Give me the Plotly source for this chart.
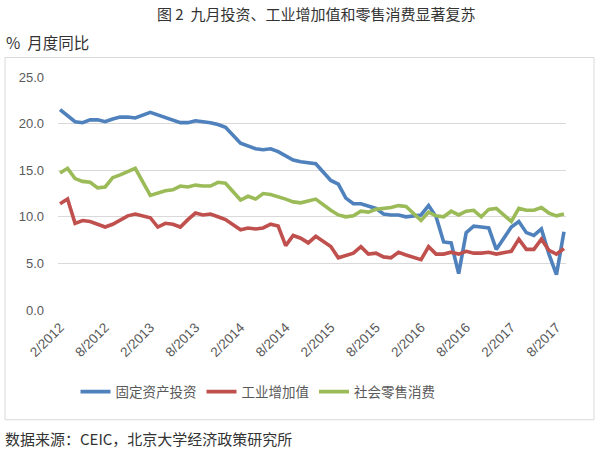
import plotly.graph_objects as go

# ---------------- data ----------------
months = []
for y in range(2012, 2018):
    for m in range(1, 13):
        if (y == 2012 and m < 2) or (y == 2017 and m > 9):
            continue
        months.append(f"{m}/{y}")

# None = January (no separate Jan release; line joins Dec to Jan-Feb)
fai = [21.5, 20.9, 20.2, 20.1, 20.4, 20.4, 20.2, 20.5, 20.7, 20.7, 20.6,
       None, 21.2, 20.9, 20.6, 20.4, 20.1, 20.1, 20.3, 20.2, 20.1, 19.9, 19.6,
       None, 17.9, 17.6, 17.3, 17.2, 17.3, 17.0, 16.5, 16.1, 15.9, 15.8, 15.7,
       None, 13.9, 13.5, 12.0, 11.4, 11.4, 11.2, 10.9, 10.3, 10.2, 10.2, 10.0,
       None, 10.2, 11.2, 10.0, 7.3, 7.2, 3.9, 8.3, 9.0, 8.9, 8.8, 6.5,
       None, 8.9, 9.5, 8.3, 8.0, 8.7, 6.0, 3.8, 8.4]

ip = [11.4, 11.9, 9.3, 9.6, 9.5, 9.2, 8.9, 9.2, 9.6, 10.1, 10.3,
      None, 9.9, 8.9, 9.3, 9.2, 8.9, 9.7, 10.4, 10.2, 10.3, 10.0, 9.7,
      None, 8.6, 8.8, 8.7, 8.8, 9.2, 9.0, 6.9, 8.0, 7.7, 7.2, 7.9,
      None, 6.8, 5.6, 5.9, 6.1, 6.8, 6.0, 6.1, 5.7, 5.6, 6.2, 5.9,
      None, 5.4, 6.8, 6.0, 6.0, 6.2, 6.0, 6.3, 6.1, 6.1, 6.2, 6.0,
      None, 6.3, 7.6, 6.5, 6.5, 7.6, 6.4, 6.0, 6.6]

retail = [14.7, 15.2, 14.1, 13.8, 13.7, 13.1, 13.2, 14.2, 14.5, 14.9, 15.2,
          None, 12.3, 12.6, 12.8, 12.9, 13.3, 13.2, 13.4, 13.3, 13.3, 13.7, 13.6,
          None, 11.8, 12.2, 11.9, 12.5, 12.4, 12.2, 11.9, 11.6, 11.5, 11.7, 11.9,
          None, 10.7, 10.2, 10.0, 10.1, 10.6, 10.5, 10.8, 10.9, 11.0, 11.2, 11.1,
          None, 9.6, 10.5, 10.1, 10.0, 10.6, 10.2, 10.6, 10.7, 10.0, 10.8, 10.9,
          None, 9.5, 10.9, 10.7, 10.7, 11.0, 10.4, 10.1, 10.3]

series_names = ["固定资产投资", "工业增加值", "社会零售消费"]
series_colors = ["#4F81BD", "#C0504D", "#9BBB59"]
tick_labels = months[::6]
y_ticks = [0, 5, 10, 15, 20, 25]

title_text = "图 2  九月投资、工业增加值和零售消费显著复苏"
unit_text = "%  月度同比"
source_text = "数据来源：CEIC，北京大学经济政策研究所"

# ---------------- figure ----------------
W, H = 600, 454
L, R, T, B = 58, 34, 76.5, 144
pw, ph = W - L - R, H - T - B

def px(xp):
    return (xp - L) / pw

def py(yp):
    return (H - B - yp) / ph

FONT = "Noto Sans CJK SC"
xs = list(range(len(months)))

fig = go.Figure()
for name, vals, col in zip(series_names, [fai, ip, retail], series_colors):
    fig.add_trace(go.Scatter(
        x=xs, y=vals, mode="lines", name=name, connectgaps=True,
        line=dict(color=col, width=3.6, shape="linear"),
    ))

fig.update_layout(
    width=W, height=H,
    margin=dict(l=L, r=R, t=T, b=B, pad=0),
    paper_bgcolor="white", plot_bgcolor="white",
    font=dict(family=FONT, color="#595959"),
    showlegend=True,
    legend=dict(orientation="h", x=px(258), y=py(392), xanchor="center",
                yanchor="middle", font=dict(size=13.5, color="#595959", family=FONT),
                itemwidth=30, tracegroupgap=0, bgcolor="rgba(0,0,0,0)"),
    xaxis=dict(
        range=[-0.27, len(months) - 1 + 0.27],
        tickmode="array", tickvals=xs[::6], ticktext=tick_labels,
        tickangle=-45, showgrid=False, zeroline=False, showline=False,
        ticks="", tickfont=dict(size=13.5, color="#595959", family="Liberation Sans"),
        ticklabelstandoff=6,
    ),
    yaxis=dict(
        range=[0, 25], tickvals=y_ticks,
        ticktext=[f"{v:.1f}" for v in y_ticks],
        showgrid=True, gridcolor="#D9D9D9", gridwidth=1,
        zeroline=False, showline=False, ticks="",
        tickfont=dict(size=13, color="#595959", family="Liberation Sans"),
        ticklabelstandoff=13,
    ),
    shapes=[dict(type="rect", xref="paper", yref="paper",
                 x0=px(5), x1=px(594), y0=py(420), y1=py(57),
                 line=dict(color="#D9D9D9", width=1), fillcolor="rgba(0,0,0,0)",
                 layer="below")],
    annotations=[
        dict(text=title_text, xref="paper", yref="paper", x=px(155), y=py(13),
             xanchor="left", yanchor="middle", showarrow=False,
             font=dict(size=15, color="#333333", family=FONT)),
        dict(text=unit_text, xref="paper", yref="paper", x=px(4), y=py(41),
             xanchor="left", yanchor="middle", showarrow=False,
             font=dict(size=15.5, color="#333333", family=FONT)),
        dict(text=source_text, xref="paper", yref="paper", x=px(3), y=py(439),
             xanchor="left", yanchor="middle", showarrow=False,
             font=dict(size=15, color="#333333", family=FONT)),
    ],
)

fig.write_html("out.html")
